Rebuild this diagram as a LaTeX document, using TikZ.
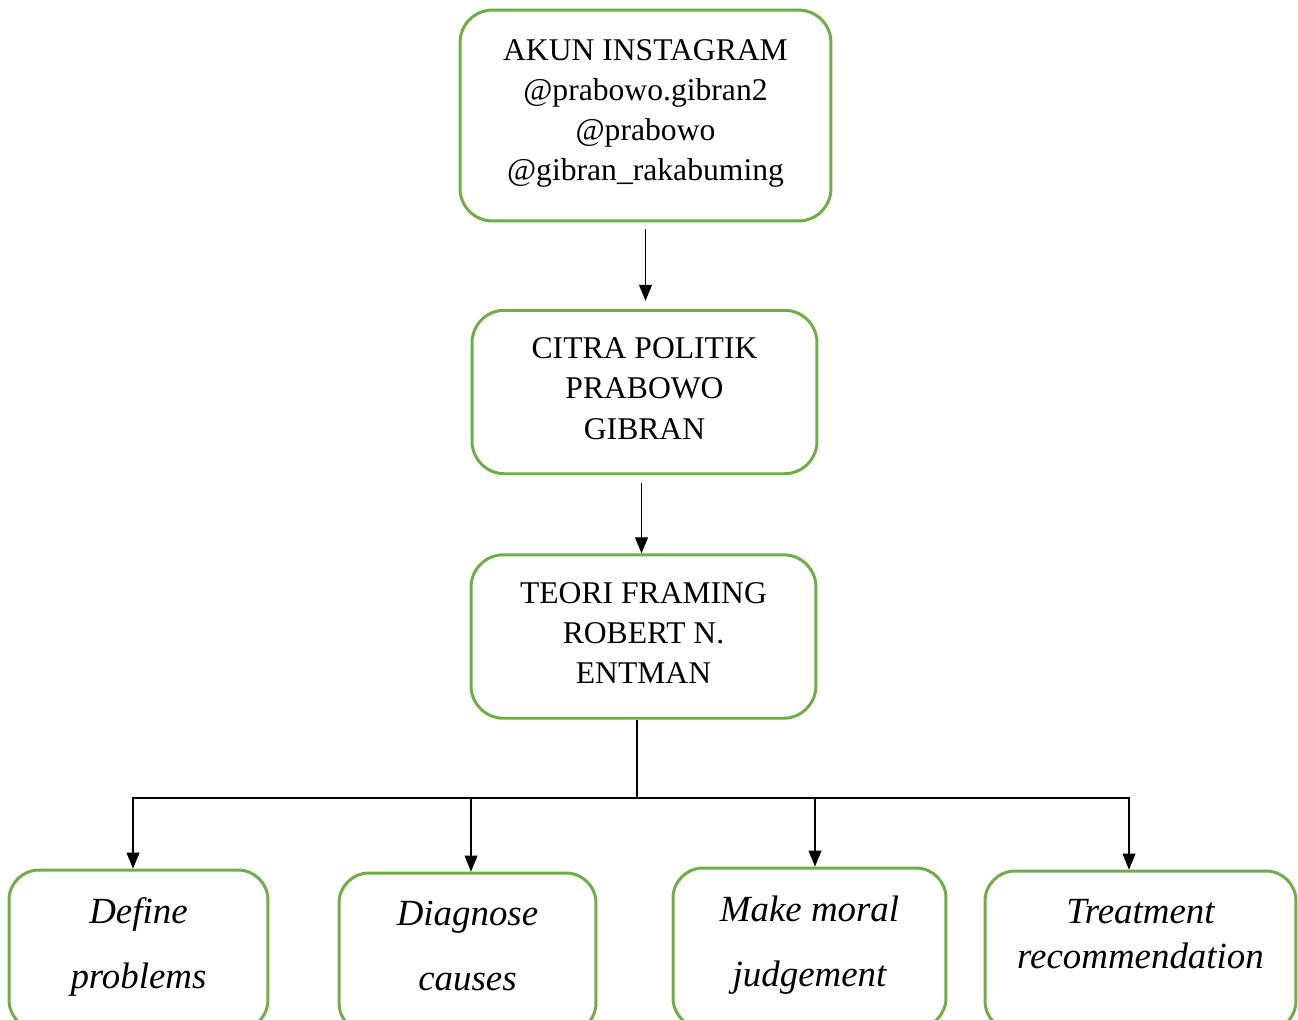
\documentclass[tikz,border=0pt]{standalone}
\usepackage{fontspec}
\setmainfont{Liberation Serif}
\usetikzlibrary{arrows.meta}
\definecolor{boxgreen}{HTML}{70AD47}

\begin{document}
\begin{tikzpicture}[x=0.02cm,y=-0.02cm,
    mainbox/.style={draw=boxgreen,line width=1.7pt,rounded corners=0.65cm,align=center,
      font=\fontsize{18}{22.8}\selectfont,text depth=4pt,minimum width=6.9cm,minimum height=3.27cm},
    leafbox/.style={draw=boxgreen,line width=1.7pt,rounded corners=0.6cm,align=center,
      font=\fontsize{21}{37}\selectfont\itshape,text depth=8pt,minimum height=3.2cm},
    arr/.style={line width=0.6pt,-{Triangle[length=0.32cm,width=0.26cm]}}]
            \clip (0,0) rectangle (1298,1019);
            \node[mainbox,minimum width=7.42cm,minimum height=4.22cm,text depth=6.5pt] (akun) at (645.5,115.5)
                {AKUN INSTAGRAM\\@prabowo.gibran2\\@prabowo\\@gibran\_rakabuming};
            \node[mainbox] (citra) at (644.5,392) {CITRA POLITIK\\PRABOWO\\GIBRAN};
            \node[mainbox] (teori) at (643.5,636.5) {TEORI FRAMING\\ROBERT N.\\ENTMAN};
            \draw[arr,shorten <=0.14cm,shorten >=0.16cm] (akun.south) -- (akun.south |- citra.north);
            \draw[arr,shorten <=0.16cm] ([xshift=-0.06cm]citra.south) -- ([xshift=-0.06cm]citra.south |- teori.north);

            \node[leafbox,minimum width=5.18cm] (define) at (138.5,950) {Define\\problems};
            \node[leafbox,minimum width=5.14cm] (diagnose) at (467.5,953) {Diagnose\\causes};
            \node[leafbox,minimum width=5.46cm] (moral) at (809.5,948) {Make moral\\judgement};
            \node[leafbox,minimum width=6.22cm,font=\fontsize{21}{25.6}\selectfont\itshape,text depth=19pt]
                (treatment) at (1140.5,951) {Treatment\\recommendation};

            \coordinate (split) at (637,798);
            \draw[line width=0.6pt] (teori.south -| split) -- (split);
            \draw[arr] (split) -| ([xshift=-0.11cm]define.north);
            \draw[arr] (split) -| ([xshift=0.07cm]diagnose.north);
            \draw[arr] (split) -| ([xshift=0.11cm]moral.north);
            \draw[arr] (split) -| ([xshift=-0.23cm]treatment.north);
        \end{tikzpicture}
\end{document}
